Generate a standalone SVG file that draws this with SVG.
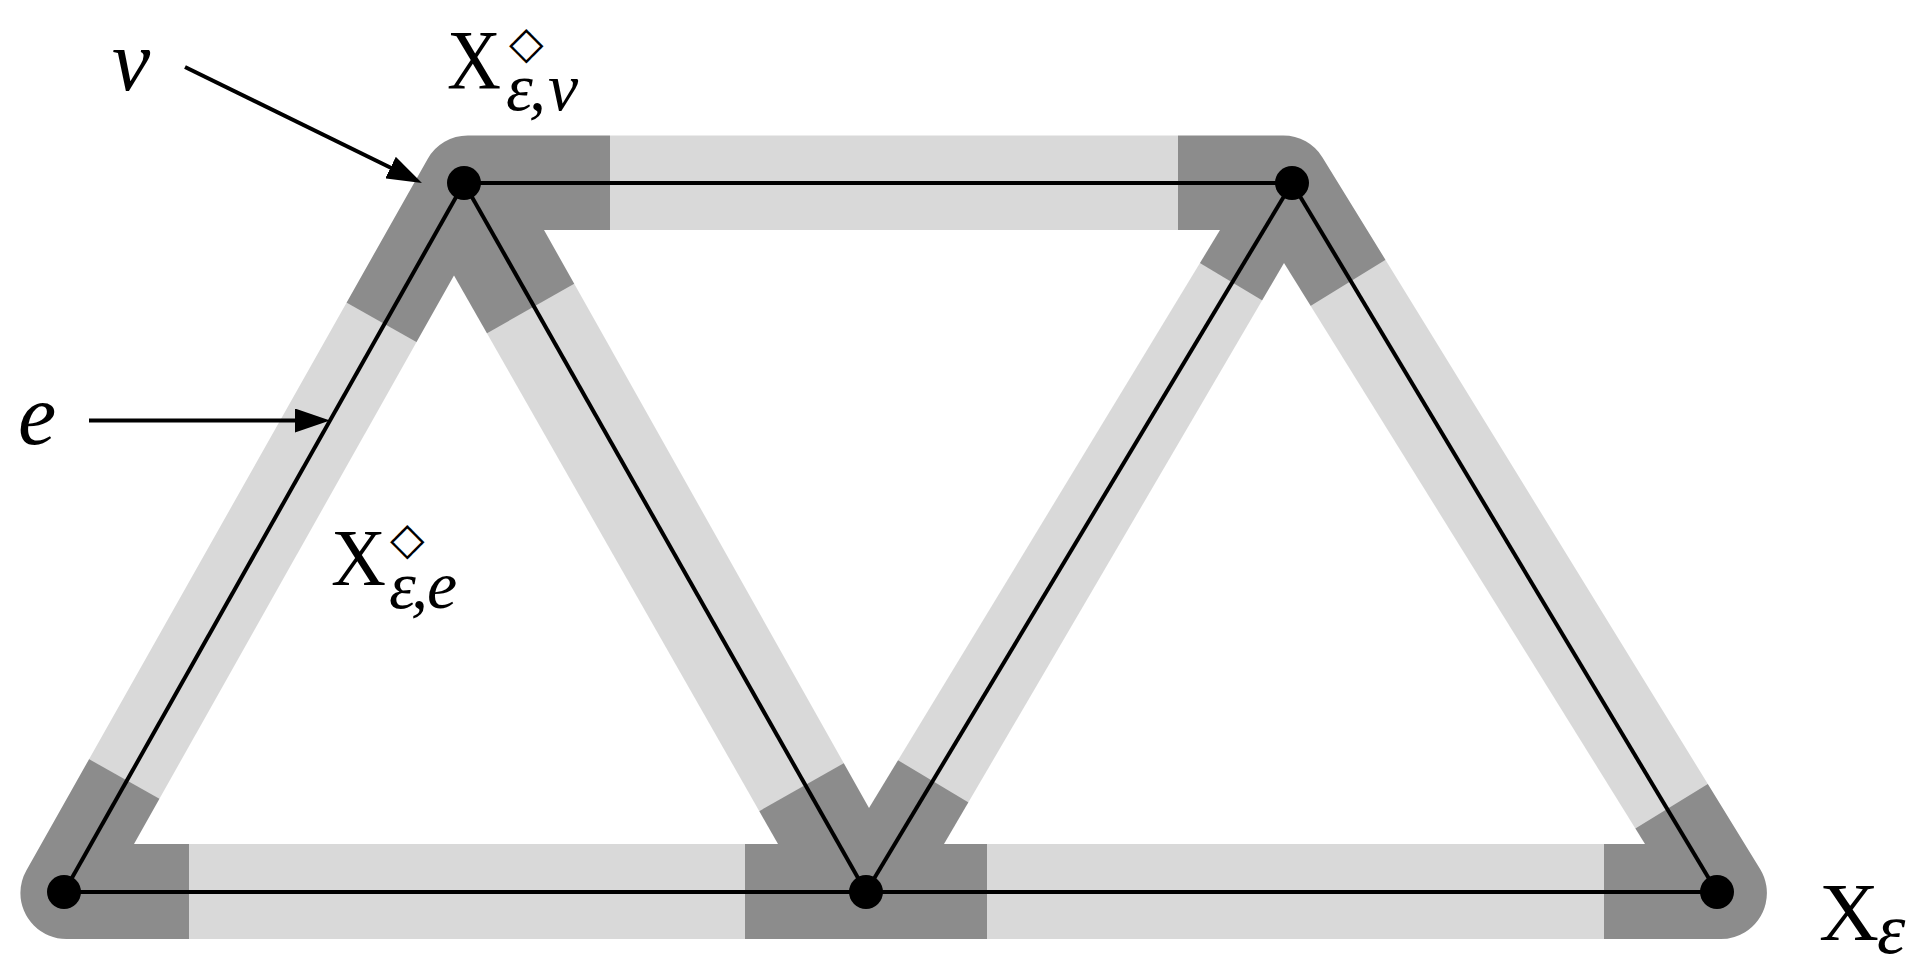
<svg xmlns="http://www.w3.org/2000/svg" width="1916" height="973" viewBox="0 0 1916 973">
<style>
.dk{fill:#8c8c8c}
.edge{fill:none;stroke:#000;stroke-width:4}
.arrow{fill:none;stroke:#000;stroke-width:4}
.dot{fill:#000}
.t{font-family:"Liberation Serif","Times New Roman",serif;fill:#000}
.i{font-style:italic}
.dia{font-family:"DejaVu Sans",sans-serif;fill:#000}
</style>
<defs>
<marker id="ah" viewBox="0 0 35 24" refX="15" refY="12" markerWidth="35" markerHeight="24" markerUnits="userSpaceOnUse" orient="auto">
<path d="M0,0 L35,12 L0,24 Z" fill="#000"/>
</marker>
<mask id="bandmask" maskUnits="userSpaceOnUse" x="0" y="0" width="1916" height="973">
<polygon points="467.7,181.5 1283.3,181.5 1720.9,893 66.4,893" fill="#fff" stroke="#fff" stroke-width="92" stroke-linejoin="round"/>
<polygon points="454,275.5 134,844 778,844" fill="#000"/>
<polygon points="544,230 1220,230 869,808" fill="#000"/>
<polygon points="1284,263 944,844 1645,844" fill="#000"/>
</mask>
</defs>
<rect width="1916" height="973" fill="#fff"/>
<g id="thickened-graph" mask="url(#bandmask)">
<rect id="edge-bands" x="0" y="100" width="1916" height="873" fill="#d9d9d9"/>
<g id="vertex-regions">
<polygon id="region-A" class="dk" points="300,100 610,100 610,260 581.7,279.5 477.3,338.7 433.7,351.8 329.1,292.8"/>
<polygon id="region-B" class="dk" points="1178,100 1178,240 1183.7,253.3 1278.1,309.9 1301.5,311.5 1395.1,253.9 1440,100"/>
<polygon id="region-C" class="dk" points="0,740 76,751.8 171.8,805.8 189,830 189,1000 0,1000"/>
<polygon id="region-D" class="dk" points="745,1000 745,830 748.6,817.2 853,758 884.6,752.2 979,808.8 987,830 987,1000"/>
<polygon id="region-E" class="dk" points="1604,1000 1604,838.2 1619.5,838.2 1721.7,775.4 1800,775 1800,1000"/>
</g>
</g>
<g id="connectors">
<line class="edge" x1="464" y1="183" x2="1292" y2="183"/>
<line class="edge" x1="64" y1="892" x2="866" y2="892"/>
<line class="edge" x1="866" y1="892" x2="1717" y2="892"/>
<line class="edge" x1="464" y1="183" x2="64" y2="892"/>
<line class="edge" x1="464" y1="183" x2="866" y2="892"/>
<line class="edge" x1="1292" y1="183" x2="866" y2="892"/>
<line class="edge" x1="1292" y1="183" x2="1717" y2="892"/>
<line class="arrow" x1="185" y1="67" x2="404" y2="174.2" marker-end="url(#ah)"/>
<line class="arrow" x1="89" y1="420.5" x2="310" y2="420.5" marker-end="url(#ah)"/>
</g>
<g id="node-A"><circle class="dot" cx="464" cy="183" r="17"/></g>
<g id="node-B"><circle class="dot" cx="1292" cy="183" r="17"/></g>
<g id="node-C"><circle class="dot" cx="64" cy="892" r="17"/></g>
<g id="node-D"><circle class="dot" cx="866" cy="892" r="17"/></g>
<g id="node-E"><circle class="dot" cx="1717" cy="892" r="17"/></g>
<g id="labels">
<text class="t i" x="112" y="90" font-size="86">v</text>
<text class="t i" x="18" y="444" font-size="86">e</text>
<g id="label-Xv">
<text class="t" x="447" y="89" font-size="85" textLength="54" lengthAdjust="spacingAndGlyphs">X</text>
<text class="dia" x="509" y="58" font-size="45">◇</text>
<text class="t i" font-size="68" y="110"><tspan x="506">ε</tspan><tspan x="529">,</tspan><tspan x="548">v</tspan></text>
</g>
<g id="label-Xe">
<text class="t" x="331" y="585" font-size="80" textLength="55" lengthAdjust="spacingAndGlyphs">X</text>
<text class="dia" x="390" y="554" font-size="45">◇</text>
<text class="t i" font-size="68" y="608"><tspan x="389">ε</tspan><tspan x="411">,</tspan><tspan x="427">e</tspan></text>
</g>
<g id="label-X">
<text class="t" x="1819" y="940" font-size="83">X</text>
<text class="t i" x="1877" y="953" font-size="72">ε</text>
</g>
</g>
</svg>
